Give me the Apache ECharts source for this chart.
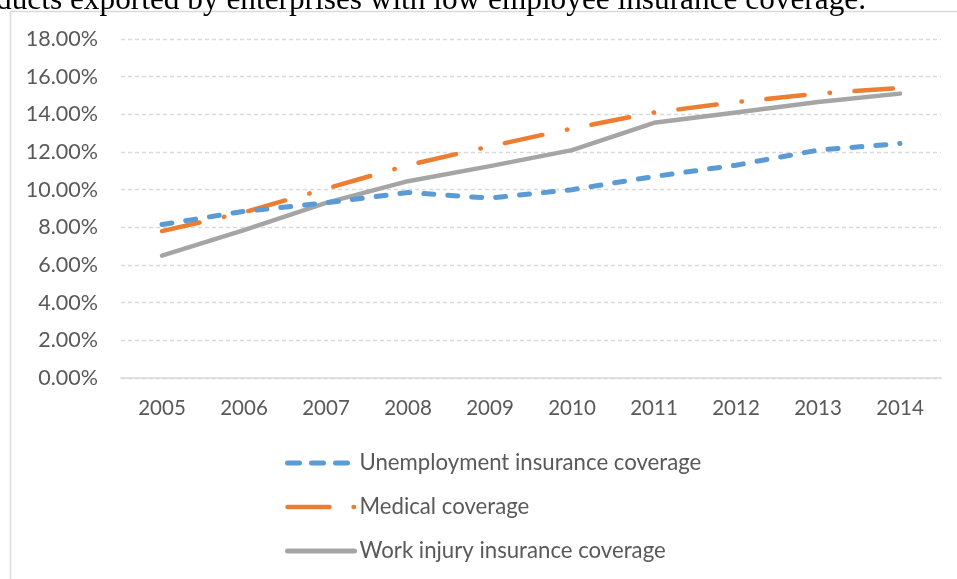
<!DOCTYPE html>
<html>
<head>
<meta charset="utf-8">
<script src="https://cdn.jsdelivr.net/npm/echarts@6/dist/echarts.min.js"></script>
<style>
html,body{margin:0;padding:0;background:#fff;}
#c{width:957px;height:579px;}
</style>
</head>
<body>
<div id="c"></div>
<script>
// ---- data ----
const years = ['2005','2006','2007','2008','2009','2010','2011','2012','2013','2014'];
const unemployment = [8.15, 8.85, 9.3, 9.85, 9.55, 10.0, 10.7, 11.3, 12.1, 12.45];
const medical = [7.8, 8.8, 10.05, 11.3, 12.3, 13.25, 14.1, 14.65, 15.1, 15.4];
const workInjury = [6.5, 7.85, 9.3, 10.45, 11.25, 12.1, 13.55, 14.1, 14.65, 15.1];
const seriesNames = ['Unemployment insurance coverage', 'Medical coverage', 'Work injury insurance coverage'];
const captionText = 'ducts exported by enterprises with low employee insurance coverage.';

const FONT = 'Lato';
const hidden = {color: 'rgba(0,0,0,0)', borderWidth: 0, opacity: 0};
const chart = echarts.init(document.getElementById('c'), null, {renderer: 'canvas'});
chart.setOption({
  animation: false,
  backgroundColor: '#fff',
  graphic: [
    {
      type: 'rect', silent: true, z: -1,
      shape: {x: 10.5, y: 11.5, width: 980, height: 600},
      style: {fill: 'none', stroke: '#d9d9d9', lineWidth: 1.5}
    },
    {
      type: 'text', silent: true,
      style: {
        text: captionText, x: 866, y: -15,
        textAlign: 'right', textVerticalAlign: 'top',
        font: '31.3px "Liberation Serif"', fill: '#000'
      }
    }
  ],
  grid: {left: 121, right: 16, top: 39, bottom: 201, containLabel: false},
  xAxis: {
    type: 'category', data: years, boundaryGap: true,
    axisLine: {lineStyle: {color: '#d9d9d9', width: 1.5}},
    axisTick: {show: false},
    axisLabel: {color: '#595959', fontFamily: FONT, fontSize: 20.5, margin: 20}
  },
  yAxis: {
    type: 'value', min: 0, max: 18, interval: 2,
    axisLine: {show: false}, axisTick: {show: false},
    axisLabel: {color: '#595959', fontFamily: FONT, fontSize: 21.5, margin: 23,
      formatter: v => v.toFixed(2) + '%'},
    splitLine: {lineStyle: {color: '#d9d9d9', width: 1.3, type: [4, 3]}}
  },
  legend: {
    orient: 'vertical', left: 285, top: 452, padding: 0,
    itemWidth: 67, itemHeight: 14, itemGap: 22,
    textStyle: {color: '#595959', fontFamily: FONT, fontSize: 22.2, lineHeight: 22, padding: [0, 0, 0, 0]},
    data: [
      {name: seriesNames[0], itemStyle: hidden, lineStyle: {type: [12, 12], cap: 'round', width: 5}},
      {name: seriesNames[1], itemStyle: hidden, lineStyle: {type: [42, 24, 0.5, 40], cap: 'round', width: 4.5}},
      {name: seriesNames[2], itemStyle: hidden, lineStyle: {width: 5, cap: 'round'}}
    ]
  },
  series: [
    {
      name: seriesNames[0], type: 'line', data: unemployment, symbol: 'none',
      lineStyle: {color: '#5b9bd5', width: 5, type: [10, 14], cap: 'round', join: 'round'},
      itemStyle: {color: '#5b9bd5'}, z: 3
    },
    {
      name: seriesNames[1], type: 'line', data: medical, symbol: 'none',
      lineStyle: {color: '#ed7d31', width: 4.5, type: [38.5, 25, 0.5, 24.5], cap: 'round', join: 'round'},
      itemStyle: {color: '#ed7d31'}, z: 2
    },
    {
      name: seriesNames[2], type: 'line', data: workInjury, symbol: 'none',
      lineStyle: {color: '#a5a5a5', width: 4.5, cap: 'round', join: 'round'},
      itemStyle: {color: '#a5a5a5'}, z: 1
    }
  ]
});
</script>
</body>
</html>
